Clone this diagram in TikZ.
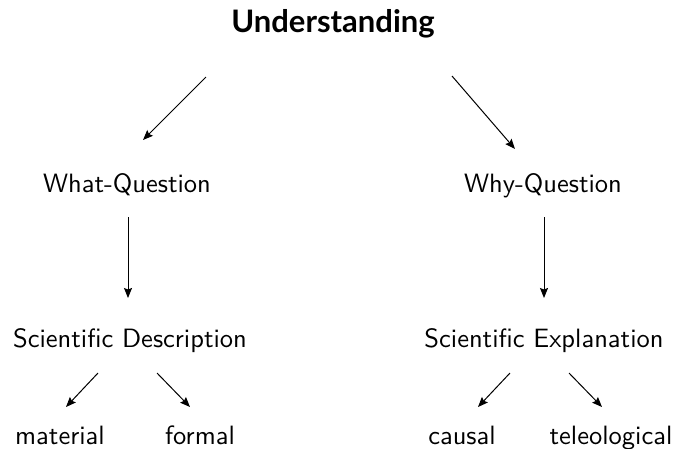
\documentclass[tikz,border=0pt]{standalone}
\usepackage{fontspec}
\newfontfamily\headfont{Lato}
\newfontfamily\bodyfont{lmsans10-regular}[Extension=.otf]
\usetikzlibrary{arrows.meta,positioning}
\tikzset{
    tree/.style={>={Stealth[length=10pt,width=8pt,inset=1.5pt]},line width=1pt,
                 x=1pt,y=-1pt},
    top/.style={anchor=base,inner sep=0pt,font=\headfont\fontsize{31}{36}\selectfont\bfseries},
    leaf/.style={anchor=base,inner sep=0pt,font=\bodyfont\fontsize{26.5}{32}\selectfont},
    }
\begin{document}
\begin{tikzpicture}[tree]
    \useasboundingbox (0,0) rectangle (675,448);
    \node[top] (und) at (333,32) {Understanding};
    \node[leaf] (what) at (127,192) {What-Question};
    \node[leaf] (why) at (543,192) {Why-Question};
    \node[leaf] (desc) at (130,347) {Scientific Description};
    \node[leaf] (expl) at (544,347) {Scientific Explanation};
    \node[leaf] (mat) at (60,444) {material};
    \node[leaf] (form) at (200,444) {formal};
    \node[leaf] (caus) at (462,444) {causal};
    \node[leaf] (tel) at (611,444) {teleological};

    \path[->] ([shift={(-127,45)}]und.base) edge ([shift={(16,-52)}]what.base);
    \path[->] ([shift={(119,44)}]und.base) edge ([shift={(-28,-43)}]why.base);
    \path[->] ([shift={(1,25)}]what.base) edge ([shift={(-2,-49)}]desc.base);
    \path[->] ([shift={(1,25)}]why.base) edge ([shift={(0,-49)}]expl.base);
    \path[->] ([shift={(-32,26)}]desc.base) edge ([shift={(6,-37)}]mat.base);
    \path[->] ([shift={(27,26)}]desc.base) edge ([shift={(-10,-37)}]form.base);
    \path[->] ([shift={(-34,26)}]expl.base) edge ([shift={(16,-37)}]caus.base);
    \path[->] ([shift={(25,26)}]expl.base) edge ([shift={(-9,-37)}]tel.base);
\end{tikzpicture}
\end{document}
